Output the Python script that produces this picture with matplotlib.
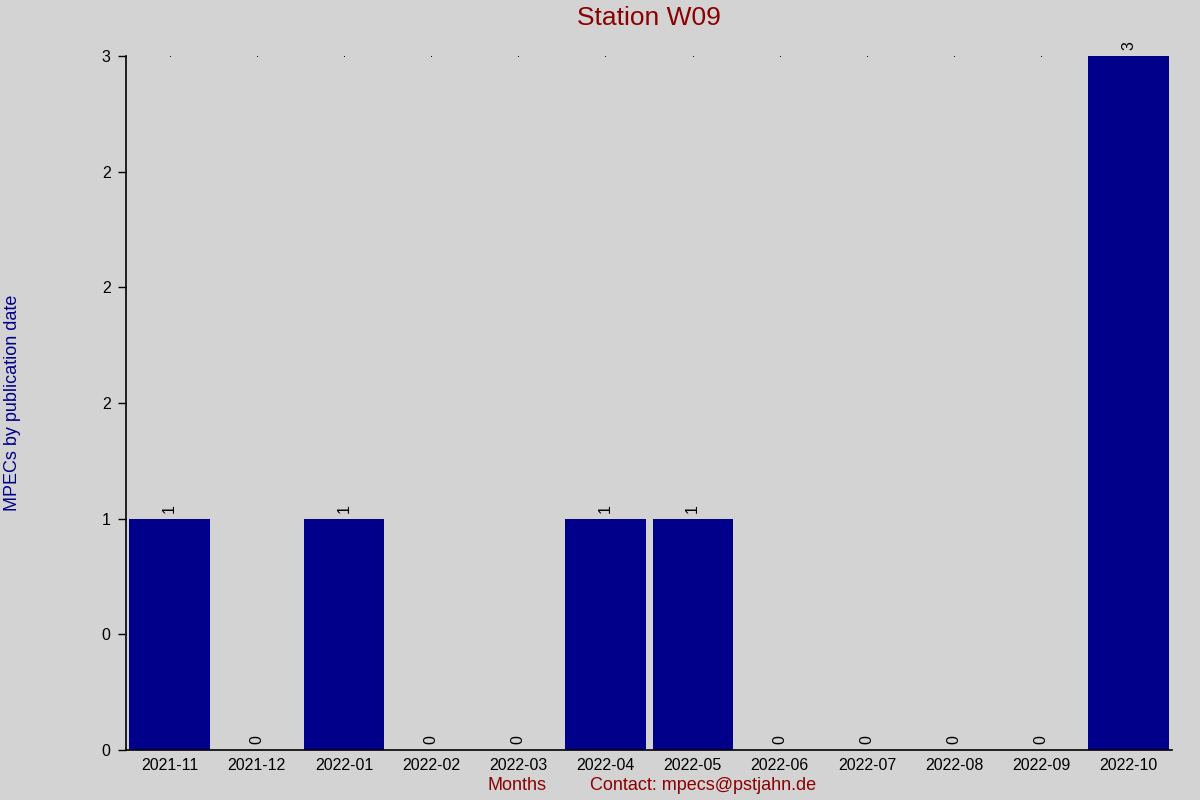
import matplotlib
matplotlib.use("Agg")
import matplotlib.pyplot as plt
import numpy as np

# データ
months = ["2021-11", "2021-12", "2022-01", "2022-02", "2022-03", "2022-04",
          "2022-05", "2022-06", "2022-07", "2022-08", "2022-09", "2022-10"]
mpecs = [1, 0, 1, 0, 0, 1, 1, 0, 0, 0, 0, 3]
yticks = [0, 0.5, 1, 1.5, 2, 2.5, 3]

plt.rcParams["font.family"] = ["Liberation Sans", "DejaVu Sans"]

bg = "#d3d3d3"
fig = plt.figure(figsize=(12, 8), dpi=100, facecolor=bg)
ax = fig.add_axes([0.105, 0.0625, 0.8717, 0.8675], facecolor=bg)

x = np.arange(len(months))
ax.bar(x, mpecs, width=0.92, color="#00008b", zorder=2)

for xi, v in zip(x, mpecs):
    ax.annotate(str(v), (xi, v), xytext=(0, 4), textcoords="offset points",
                rotation=90, ha="center", va="bottom", fontsize=11.5)

# 上端の小さな点（棒の後ろ）
ax.plot(x, [max(mpecs)] * len(x), "s", markersize=0.6, color="black",
        markeredgewidth=0, clip_on=True, zorder=1)

ax.set_xlim(-0.5, len(months) - 0.5)
ax.set_ylim(0, max(mpecs))
ax.set_xticks(x)
ax.set_xticklabels(months, fontsize=11.5)
ax.set_yticks(yticks)
ax.set_yticklabels(["%.0f" % t for t in yticks], fontsize=11.5)
ax.tick_params(axis="x", length=0, pad=6)
ax.tick_params(axis="y", length=6, width=1, pad=5)

for s in ["top", "right"]:
    ax.spines[s].set_visible(False)
for s in ["left", "bottom"]:
    ax.spines[s].set_color("black")
    ax.spines[s].set_linewidth(1.2)

ax.set_ylabel("MPECs by publication date", fontsize=13, color="#00008b")
ax.yaxis.set_label_coords(-0.1, 0.5)

fig.text(0.541, 0.9775, "Station W09", fontsize=19, color="#8b0000",
         ha="center", va="center")
fig.text(0.431, 0.0175, "Months", fontsize=13, color="#8b0000",
         ha="center", va="center")
fig.text(0.586, 0.0175, "Contact: mpecs@pstjahn.de", fontsize=13,
         color="#8b0000", ha="center", va="center")

fig.savefig("out.png", dpi=100, facecolor=bg)
